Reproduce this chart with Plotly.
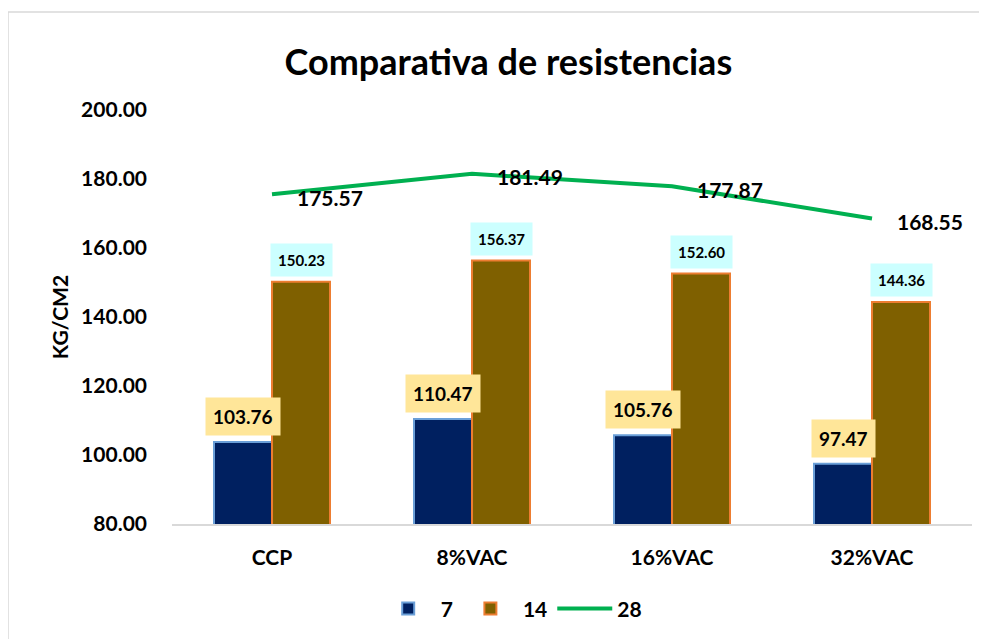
import plotly.graph_objects as go

# data
categories = ["CCP", "8%VAC", "16%VAC", "32%VAC"]
dias_7 = [103.76, 110.47, 105.76, 97.47]
dias_14 = [150.23, 156.37, 152.60, 144.36]
dias_28 = [175.57, 181.49, 177.87, 168.55]
y_ticks = [80, 100, 120, 140, 160, 180, 200]

FONT = "Lato"

fig = go.Figure()
fig.add_trace(go.Bar(
    x=categories, y=dias_7, name="7",
    marker=dict(color="#002060", line=dict(color="#6A9FD8", width=2)),
))
fig.add_trace(go.Bar(
    x=categories, y=dias_14, name="14",
    marker=dict(color="#7F6000", line=dict(color="#ED7D31", width=2)),
))
fig.add_trace(go.Scatter(
    x=categories, y=dias_28, name="28", mode="lines",
    line=dict(color="#00B050", width=4),
))

# data labels
for cat, v in zip(categories, dias_7):
    fig.add_annotation(
        x=cat, y=v, xshift=-29, yshift=6, yanchor="bottom", showarrow=False,
        text=f"{v:.2f}", bgcolor="#FFE699", borderpad=7,
        font=dict(family=FONT, size=19, color="black", weight="bold"),
    )
for cat, v in zip(categories, dias_14):
    fig.add_annotation(
        x=cat, y=v, xshift=29, yshift=5, yanchor="bottom", showarrow=False,
        text=f"{v:.2f}", bgcolor="#CCFFFF", borderpad=7,
        font=dict(family=FONT, size=15, color="black", weight="bold"),
    )
for cat, v in zip(categories, dias_28):
    fig.add_annotation(
        x=cat, y=v, xshift=23, yshift=-3, xanchor="left", showarrow=False,
        text=f"{v:.2f}",
        font=dict(family=FONT, size=21, color="black", weight="bold"),
    )

# outer chart border: only the top and left edges are inside the window
border = dict(color="#D9D9D9", width=1.5)
fig.add_shape(type="line", xref="paper", yref="paper",
              x0=-0.205, x1=1.05, y0=1.237, y1=1.237, line=border)
fig.add_shape(type="line", xref="paper", yref="paper",
              x0=-0.205, x1=-0.205, y0=-0.3, y1=1.237, line=border)

fig.update_layout(
    width=987, height=639,
    margin=dict(l=164, r=23, t=102, b=123),
    paper_bgcolor="white", plot_bgcolor="white",
    barmode="group", bargap=0.42, bargroupgap=0,
    title=dict(text="Comparativa de resistencias", x=0.507, xanchor="center",
               y=0.9155, yanchor="middle",
               font=dict(family=FONT, size=36, color="black", weight="bold")),
    font=dict(family=FONT, color="black"),
    legend=dict(orientation="h", x=0.424, xanchor="center", y=-0.205, yanchor="middle",
                font=dict(family=FONT, size=21, color="black", weight="bold"),
                itemwidth=55),
    showlegend=True,
)
fig.update_xaxes(
    showline=True, linecolor="#D9D9D9", linewidth=1.5, showgrid=False,
    ticks="", ticklabelstandoff=14,
    tickfont=dict(family=FONT, size=21, color="black", weight="bold"),
)
fig.update_yaxes(
    range=[80, 200], tickvals=y_ticks, tickformat=".2f",
    showgrid=False, zeroline=False, showline=False, ticks="", ticklabelstandoff=24,
    tickfont=dict(family=FONT, size=21, color="black", weight="bold"),
    title=dict(text="KG/CM2", standoff=6,
               font=dict(family=FONT, size=21, color="black", weight="bold")),
)

fig.write_html("out.html")
